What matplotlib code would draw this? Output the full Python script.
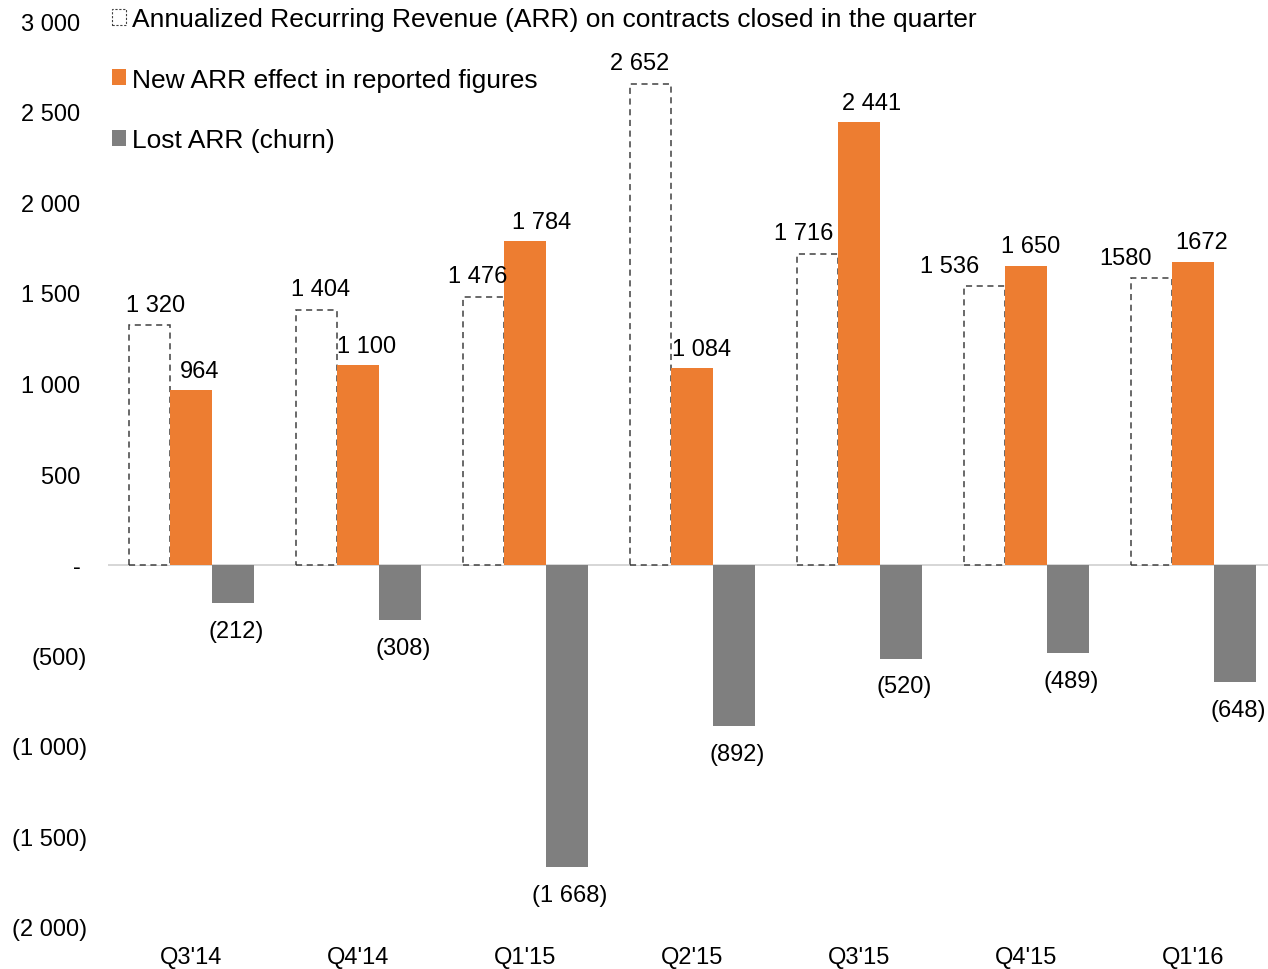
import numpy as np
import matplotlib.pyplot as plt
from matplotlib.patches import Patch

quarters = ["Q3'14", "Q4'14", "Q1'15", "Q2'15", "Q3'15", "Q4'15", "Q1'16"]
arr_closed = [1320, 1404, 1476, 2652, 1716, 1536, 1580]
arr_new = [964, 1100, 1784, 1084, 2441, 1650, 1672]
arr_lost = [-212, -308, -1668, -892, -520, -489, -648]
lbl_closed = ['1 320', '1 404', '1 476', '2 652', '1 716', '1 536', '1580']
lbl_new = ['964', '1 100', '1 784', '1 084', '2 441', '1 650', '1672']
lbl_lost = ['(212)', '(308)', '(1 668)', '(892)', '(520)', '(489)', '(648)']
yticks = [3000, 2500, 2000, 1500, 1000, 500, 0, -500, -1000, -1500, -2000]
# trailing space keeps digits aligned with the bracketed negatives, like excel
ytick_lbl = ['3 000 ', '2 500 ', '2 000 ', '1 500 ', '1 000 ', '500 ', '- ',
             '(500)', '(1 000)', '(1 500)', '(2 000)']

# label nudges in points (excel labels were dragged by hand)
dx_closed = [4, 3, -4, -8, -10, -25, -19]
dx_new = [6, 6, 12, 7, 9, 3, 6]

orange = '#ED7D31'
grey = '#7F7F7F'
fs = 17

plt.rcParams['font.family'] = ['Liberation Sans', 'DejaVu Sans']
fig = plt.figure(figsize=(12.68, 9.70), dpi=100)
ax = fig.add_axes([0.085, 0.0433, 0.922, 0.934])

x = np.arange(len(quarters))
w = 0.25
ax.bar(x - w, arr_closed, w, facecolor='white', edgecolor='#404040',
       linestyle=(0, (4, 3)), linewidth=1.1, zorder=2)
ax.bar(x, arr_new, w, color=orange, zorder=2)
ax.bar(x + w, arr_lost, w, color=grey, zorder=2)
ax.axhline(0, color='#D0D0D0', linewidth=1.2, zorder=1)

for i in range(len(x)):
    ax.annotate(lbl_closed[i], (x[i] - w, arr_closed[i]), xytext=(dx_closed[i], 7),
                textcoords='offset points', ha='center', va='bottom', fontsize=fs)
    ax.annotate(lbl_new[i], (x[i], arr_new[i]), xytext=(dx_new[i], 6),
                textcoords='offset points', ha='center', va='bottom', fontsize=fs)
    ax.annotate(lbl_lost[i], (x[i] + w, arr_lost[i]), xytext=(2, -12),
                textcoords='offset points', ha='center', va='top', fontsize=fs)

ax.set_xlim(-0.5, 6.5)
ax.set_ylim(-2000, 3000)
ax.set_yticks(yticks)
ax.set_yticklabels(ytick_lbl, fontsize=fs)
ax.set_xticks(x)
ax.set_xticklabels(quarters, fontsize=fs)
ax.tick_params(axis='both', length=0)
ax.tick_params(axis='y', pad=15)
ax.tick_params(axis='x', pad=14)
for s in ax.spines.values():
    s.set_visible(False)

handles = [Patch(facecolor='white', edgecolor='#404040', linestyle=(0, (2, 1.5)), linewidth=0.8),
           Patch(facecolor=orange), Patch(facecolor=grey)]
labels = ['Annualized Recurring Revenue (ARR) on contracts closed in the quarter',
          'New ARR effect in reported figures', 'Lost ARR (churn)']
ax.legend(handles, labels, loc='upper left', bbox_to_anchor=(-0.01, 1.033), frameon=False,
          fontsize=19, handlelength=0.55, handleheight=0.55, handletextpad=0.2,
          labelspacing=1.39, borderaxespad=0.2)

fig.savefig('out.png', dpi=100)
